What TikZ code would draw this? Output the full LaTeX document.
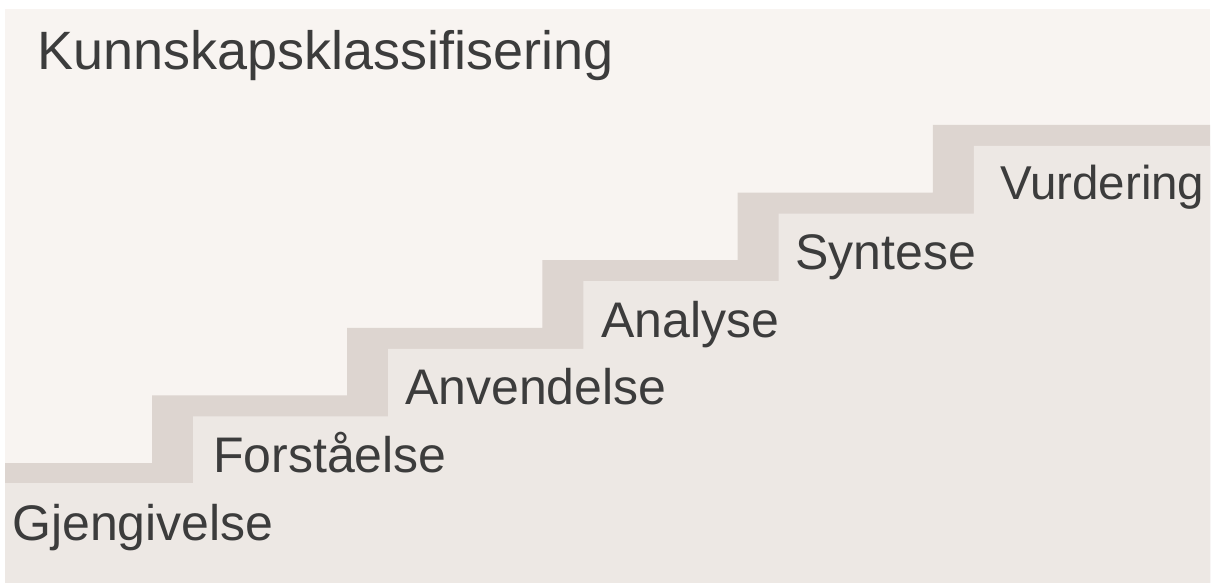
\documentclass[tikz,border=0pt]{standalone}
\usepackage{fontspec}
\setmainfont{Liberation Sans}
\definecolor{upperbg}{HTML}{F8F4F1}
\definecolor{bandc}{HTML}{DDD5D0}
\definecolor{lowerbg}{HTML}{EDE8E4}
\definecolor{txt}{HTML}{3C3C3C}
\begin{document}
\begin{tikzpicture}[x=1pt,y=-1pt,
  lbl/.style={anchor=base west, inner sep=0pt, text=txt, font=\fontsize{50}{60}\selectfont},
  titlelbl/.style={anchor=base west, inner sep=0pt, text=txt, font=\fontsize{54}{64}\selectfont}]
\useasboundingbox (0,0) rectangle (1213,583);
\fill[white] (0,0) rectangle (1213,583);
\fill[upperbg] (5,9) rectangle (1210,583);
% staircase band
\fill[bandc] (5,463) -- (152,463) -- (152,395.4) -- (347.2,395.4) -- (347.2,327.8)
  -- (542.4,327.8) -- (542.4,260.2) -- (737.6,260.2) -- (737.6,192.6)
  -- (932.8,192.6) -- (932.8,125) -- (1210,125) -- (1210,583) -- (5,583) -- cycle;
% lower region
\fill[lowerbg] (5,483) -- (193,483) -- (193,416.4) -- (388.2,416.4) -- (388.2,348.8)
  -- (583.4,348.8) -- (583.4,281.2) -- (778.6,281.2) -- (778.6,213.6)
  -- (973.8,213.6) -- (973.8,146) -- (1210,146) -- (1210,583) -- (5,583) -- cycle;
% labels
\node[titlelbl] (title) at (37,70) {Kunnskapsklassifisering};
\node[lbl] (s0) at (12,540) {Gjengivelse};
\node[lbl] (s1) at (213,472.4) {Forståelse};
\node[lbl] (s2) at (405,404.8) {Anvendelse};
\node[lbl] (s3) at (601,337.2) {Analyse};
\node[lbl] (s4) at (795,269.6) {Syntese};
\node[lbl, font=\fontsize{47.5}{57}\selectfont] (s5) at (1000,199) {Vurdering};
\end{tikzpicture}
\end{document}
